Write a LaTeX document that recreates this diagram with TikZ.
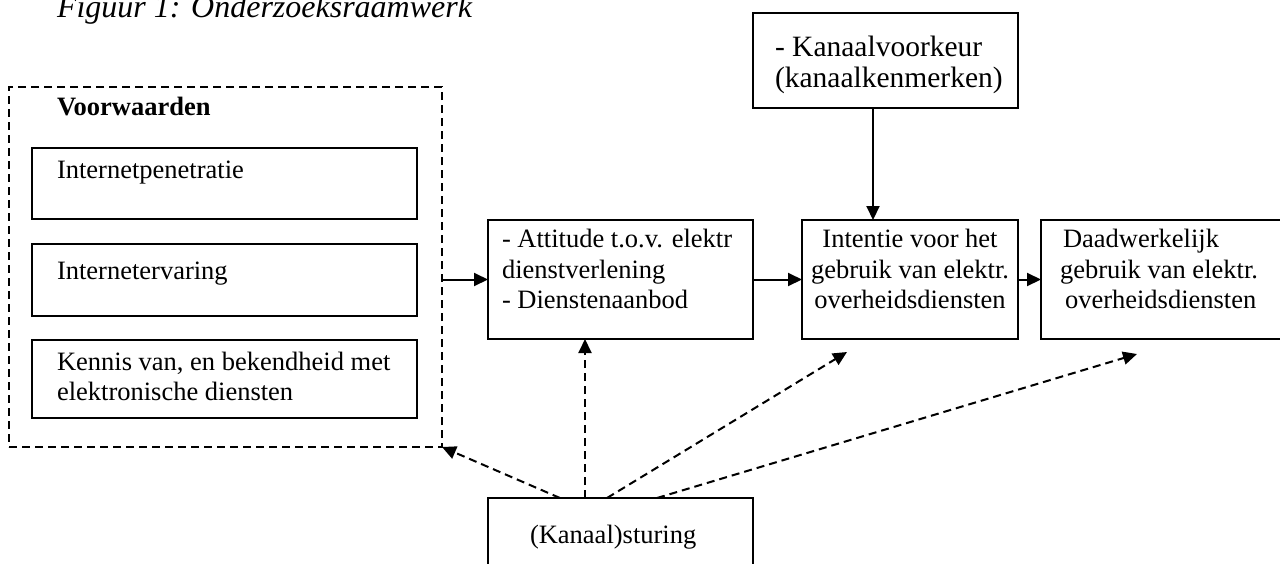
\documentclass[tikz,border=0pt]{standalone}
\usepackage{fontspec}
\setmainfont{Liberation Serif}
\usetikzlibrary{arrows.meta}
\tikzset{
  box/.style={draw, line width=2pt, inner sep=0pt, outer sep=0pt, anchor=north west},
  dbox/.style={box, dash pattern=on 8pt off 5pt},
  txt/.style={anchor=base west, inner sep=0pt, outer sep=0pt, font=\fontsize{26.5}{30.5}\selectfont},
  ctxt/.style={txt, anchor=base},
  bigtxt/.style={txt, font=\fontsize{29.5}{33}\selectfont},
  arr/.style={-{Triangle[length=14pt,width=13pt]}, line width=2pt},
  darr/.style={arr, dash pattern=on 8pt off 5pt},
}
\begin{document}
\begin{tikzpicture}[x=1pt,y=-1pt]
\useasboundingbox (0,0) rectangle (1280,563);
% title
\node[txt, font=\fontsize{32}{36}\selectfont\itshape] (title) at (57,17) {Figuur 1: Onderzoeksraamwerk};
% Voorwaarden group
\node[dbox, minimum width=433pt, minimum height=360pt] (vw) at (9,87) {};
\node[txt, font=\fontsize{26.5}{30.5}\selectfont\bfseries] (vwt) at (57,115) {Voorwaarden};
\node[box, minimum width=385pt, minimum height=71pt] (b1) at (32,148) {};
\node[txt] (b1t) at (57,178) {Internetpenetratie};
\node[box, minimum width=385pt, minimum height=72pt] (b2) at (32,244) {};
\node[txt] (b2t) at (57,279) {Internetervaring};
\node[box, minimum width=385pt, minimum height=78pt] (b3) at (32,340) {};
\node[txt] (b3a) at (57,370) {Kennis van, en bekendheid met};
\node[txt] (b3b) at (57,400) {elektronische diensten};
% Attitude
\node[box, minimum width=265pt, minimum height=119pt] (att) at (488,220) {};
\node[txt] (atta) at (502,247) {- Attitude t.o.v. elektr};
\node[txt] (attb) at (502,278) {dienstverlening};
\node[txt] (attc) at (502,308) {- Dienstenaanbod};
% Intentie
\node[box, minimum width=216pt, minimum height=119pt] (int) at (802,220) {};
\node[ctxt] (inta) at (910,247) {Intentie voor het};
\node[ctxt] (intb) at (910,278) {gebruik van elektr.};
\node[ctxt] (intc) at (910,308) {overheidsdiensten};
% Daadwerkelijk
\node[box, minimum width=260pt, minimum height=119pt] (daad) at (1041,220) {};
\node[txt] (daada) at (1063,247) {Daadwerkelijk};
\node[txt] (daadb) at (1060,278) {gebruik van elektr.};
\node[txt] (daadc) at (1065,308) {overheidsdiensten};
% Kanaalvoorkeur
\node[box, minimum width=265pt, minimum height=95pt] (kv) at (753,13) {};
\node[bigtxt] (kva) at (775,56) {- Kanaalvoorkeur};
\node[bigtxt] (kvb) at (775,87) {(kanaalkenmerken)};
% Sturing
\node[box, minimum width=265pt, minimum height=90pt] (st) at (488,498) {};
\node[txt] (stt) at (530,543) {(Kanaal)sturing};
% free ends
\coordinate (e3) at (847,352);
\coordinate (e4) at (1137,354);
% solid arrows
\draw[arr] (vw.east |- att.west) -- (att.west);
\draw[arr] (att.east) -- (int.west);
\draw[arr] (int.east) -- (daad.west);
\draw[arr] ([xshift=-12.5pt]kv.south) -- ([xshift=-12.5pt]kv.south |- int.north);
% dashed arrows
\draw[darr] ([xshift=-60.5pt]st.north) -- (vw.south east);
\draw[darr] ([xshift=-35.5pt]st.north) -- ([xshift=-35.5pt]att.south);
\draw[darr] ([xshift=-13.5pt]st.north) -- (e3);
\draw[darr] ([xshift=36.5pt]st.north) -- (e4);
\end{tikzpicture}
\end{document}
